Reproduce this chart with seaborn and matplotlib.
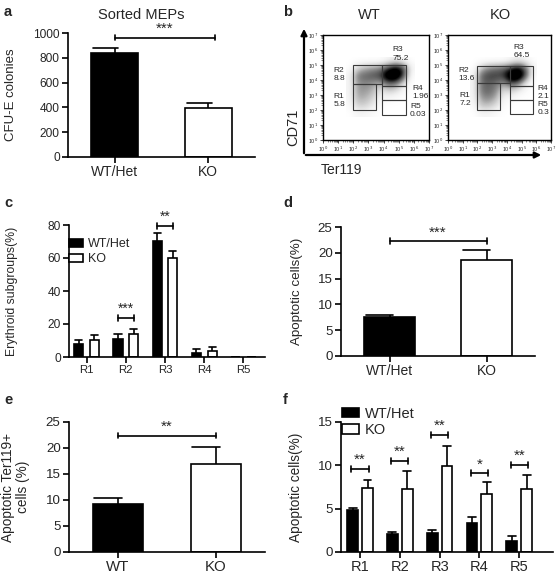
import numpy as np
import pandas as pd
import matplotlib
matplotlib.use("Agg")
import matplotlib.pyplot as plt
import seaborn as sns
from matplotlib.patches import Rectangle, Patch

# ---------------- data ----------------
a_groups = ["WT/Het", "KO"]
a_means = [838, 397]
a_sems = [40, 35]

regions = ["R1", "R2", "R3", "R4", "R5"]
c_wt = [7.7, 10.7, 70.4, 2.6, 0.15]
c_wt_err = [2.4, 3.1, 4.5, 2.1, 0.1]
c_ko = [10.5, 14.2, 59.7, 3.4, 0.1]
c_ko_err = [3.1, 3.0, 4.5, 2.7, 0.1]

d_groups = ["WT/Het", "KO"]
d_means = [7.6, 18.7]
d_sems = [0.35, 1.8]

e_groups = ["WT", "KO"]
e_means = [9.3, 16.9]
e_sems = [1.0, 3.3]

f_wt = [4.8, 2.05, 2.2, 3.35, 1.25]
f_wt_err = [0.3, 0.25, 0.3, 0.7, 0.6]
f_ko = [7.35, 7.25, 9.9, 6.7, 7.25]
f_ko_err = [0.95, 2.05, 2.3, 1.35, 1.65]

# flow gates (log10 decades): name -> (x0, x1, y0, y1)
wt_gates = {"R1": (2.0, 3.5, 2.0, 3.75), "R2": (2.0, 3.9, 3.75, 5.0),
            "R3": (3.9, 5.5, 3.6, 5.0), "R4": (3.9, 5.5, 2.7, 3.6),
            "R5": (3.9, 5.5, 1.65, 2.7)}
ko_gates = {"R1": (2.0, 3.55, 2.0, 3.78), "R2": (2.0, 4.2, 3.78, 4.95),
            "R3": (4.2, 5.8, 3.6, 4.95), "R4": (4.2, 5.8, 2.67, 3.6),
            "R5": (4.2, 5.8, 1.73, 2.67)}
wt_pct = {"R1": "5.8", "R2": "8.8", "R3": "75.2", "R4": "1.96", "R5": "0.03"}
ko_pct = {"R1": "7.2", "R2": "13.6", "R3": "64.5", "R4": "2.1", "R5": "0.3"}
wt_lab_pos = {"R1": (0.7, 3.15), "R2": (0.7, 4.9), "R3": (4.6, 6.25),
              "R4": (5.9, 3.7), "R5": (5.75, 2.45)}
ko_lab_pos = {"R1": (0.8, 3.2), "R2": (0.72, 4.9), "R3": (4.45, 6.4),
              "R4": (6.1, 3.65), "R5": (6.1, 2.6)}
# estimated event density (rows: CD71 5.25 -> 1.75, cols: Ter119 1.75 -> 5.75)
wt_density = np.array([
    [0.00, 0.00, 0.00, 0.00, 0.00, 0.05, 0.10, 0.05, 0.00],
    [0.00, 0.20, 0.30, 0.35, 0.40, 0.60, 0.80, 0.60, 0.05],
    [0.05, 0.45, 0.50, 0.55, 0.60, 0.95, 1.00, 0.60, 0.00],
    [0.05, 0.35, 0.40, 0.35, 0.30, 0.50, 0.45, 0.15, 0.00],
    [0.05, 0.35, 0.35, 0.30, 0.10, 0.20, 0.15, 0.05, 0.00],
    [0.05, 0.30, 0.30, 0.20, 0.05, 0.05, 0.02, 0.00, 0.00],
    [0.02, 0.20, 0.20, 0.10, 0.02, 0.00, 0.00, 0.00, 0.00],
    [0.00, 0.05, 0.05, 0.02, 0.00, 0.00, 0.00, 0.00, 0.00]])
ko_density = np.array([
    [0.00, 0.00, 0.00, 0.00, 0.00, 0.05, 0.10, 0.05, 0.00],
    [0.00, 0.25, 0.40, 0.45, 0.50, 0.60, 0.75, 0.50, 0.05],
    [0.05, 0.50, 0.60, 0.60, 0.60, 0.95, 1.00, 0.55, 0.00],
    [0.05, 0.45, 0.50, 0.45, 0.35, 0.55, 0.45, 0.10, 0.00],
    [0.05, 0.45, 0.50, 0.40, 0.15, 0.20, 0.10, 0.02, 0.00],
    [0.05, 0.35, 0.40, 0.30, 0.05, 0.05, 0.00, 0.00, 0.00],
    [0.02, 0.25, 0.25, 0.15, 0.02, 0.00, 0.00, 0.00, 0.00],
    [0.00, 0.05, 0.05, 0.02, 0.00, 0.00, 0.00, 0.00, 0.00]])
decades = list(range(8))

# ---------------- style ----------------
sns.set_style("ticks")
plt.rcParams["font.family"] = ["Liberation Sans", "DejaVu Sans"]
plt.rcParams["axes.linewidth"] = 1.2

W, H = 557, 577
fig = plt.figure(figsize=(W / 100, H / 100), dpi=100)


def px_axes(left, top, right, bottom):
    return fig.add_axes([left / W, 1 - bottom / H, (right - left) / W, (bottom - top) / H])


def style(ax, xfs, yfs):
    sns.despine(ax=ax)
    for s in ("left", "bottom"):
        ax.spines[s].set_linewidth(1.2)
        ax.spines[s].set_color("black")
    ax.tick_params(axis="both", direction="out", length=4, width=1.2, color="black", pad=2)
    ax.tick_params(axis="x", labelsize=xfs)
    ax.tick_params(axis="y", labelsize=yfs)
    ax.set_xlabel("")


def upper_err(ax, xs, tops, errs, cl, cr):
    for x, t, e in zip(xs, tops, errs):
        ax.plot([x, x], [t, t + e], color="black", lw=1.2, zorder=1, solid_capstyle="butt")
        ax.plot([x - cl, x + cr], [t + e, t + e], color="black", lw=1.2, zorder=1)


def bracket(ax, x0, x1, y, h, txt, fs):
    kw = dict(color="black", lw=1.2, clip_on=False)
    ax.plot([x0, x1], [y, y], **kw)
    ax.plot([x0, x0], [y - h, y + h], **kw)
    ax.plot([x1, x1], [y - h, y + h], **kw)
    ax.text((x0 + x1) / 2, y + h * 0.6, txt, ha="center", va="bottom", fontsize=fs)


def bar_centers(container):
    return [b.get_x() + b.get_width() / 2 for b in container]


# ---------------- panel a ----------------
ax = px_axes(68, 33, 255, 157)
sns.barplot(x=a_groups, y=a_means, hue=a_groups, palette=["black", "white"],
            edgecolor="black", linewidth=1.2, width=0.5, errorbar=None, legend=False, ax=ax)
ax.set_xlim(-0.5, 1.5)
ax.set_ylim(0, 1000)
ax.set_yticks([0, 200, 400, 600, 800, 1000])
upper_err(ax, [0, 1], a_means, a_sems, 0.23, 0.04)
bracket(ax, 0, 1.07, 962, 20, "***", 11)
style(ax, 10, 8.6)
ax.set_ylabel("CFU-E colonies", fontsize=9.5)
ax.yaxis.set_label_coords(-0.273, 0.5)

# ---------------- panel c ----------------
ax = px_axes(69, 225, 265, 357)
df_c = pd.DataFrame({"region": regions * 2,
                     "value": c_wt + c_ko,
                     "geno": ["WT/Het"] * 5 + ["KO"] * 5})
sns.barplot(data=df_c, x="region", y="value", hue="geno",
            palette={"WT/Het": "black", "KO": "white"}, edgecolor="black",
            linewidth=1.2, width=0.8, gap=0.42, errorbar=None, legend=False, ax=ax)
ax.set_xlim(-0.45, 4.55)
ax.set_ylim(0, 80)
ax.set_yticks([0, 20, 40, 60, 80])
cw = bar_centers(ax.containers[0])
ck = bar_centers(ax.containers[1])
upper_err(ax, cw, c_wt, c_wt_err, 0.09, 0.09)
upper_err(ax, ck, c_ko, c_ko_err, 0.09, 0.09)
bracket(ax, cw[1], ck[1], 23.8, 1.8, "***", 10)
bracket(ax, cw[2], ck[2], 79.4, 1.8, "**", 10)
style(ax, 8.2, 8.6)
ax.set_ylabel("Erythroid subgroups(%)", fontsize=8.8)
ax.yaxis.set_label_coords(-0.26, 0.5)
ax.legend(handles=[Patch(fc="black", ec="black", lw=1.2), Patch(fc="white", ec="black", lw=1.2)],
          labels=["WT/Het", "KO"], loc="upper left", bbox_to_anchor=(0.0, 0.90),
          frameon=False, fontsize=9, handlelength=1.1, handleheight=0.65,
          handletextpad=0.4, labelspacing=0.25, borderpad=0, borderaxespad=0)

# ---------------- panel d ----------------
ax = px_axes(341, 227, 535, 356)
sns.barplot(x=d_groups, y=d_means, hue=d_groups, palette=["black", "white"],
            edgecolor="black", linewidth=1.2, width=0.52, errorbar=None, legend=False, ax=ax)
ax.set_xlim(-0.5, 1.5)
ax.set_ylim(0, 25)
ax.set_yticks([0, 5, 10, 15, 20, 25])
upper_err(ax, [0, 1], d_means, d_sems, 0.24, 0.04)
bracket(ax, 0, 1, 22.3, 0.5, "***", 11)
style(ax, 10, 9.6)
ax.set_ylabel("Apoptotic cells(%)", fontsize=9.6)
ax.yaxis.set_label_coords(-0.196, 0.5)

# ---------------- panel e ----------------
ax = px_axes(69, 422, 265, 552)
sns.barplot(x=e_groups, y=e_means, hue=e_groups, palette=["black", "white"],
            edgecolor="black", linewidth=1.2, width=0.51, errorbar=None, legend=False, ax=ax)
ax.set_xlim(-0.5, 1.5)
ax.set_ylim(0, 25)
ax.set_yticks([0, 5, 10, 15, 20, 25])
upper_err(ax, [0, 1], e_means, e_sems, 0.25, 0.04)
bracket(ax, 0, 1, 22.4, 0.5, "**", 11)
style(ax, 10.8, 9.6)
ax.set_ylabel("Apoptotic Ter119+\ncells (%)", fontsize=9.8, linespacing=1.05)
ax.yaxis.set_label_coords(-0.199, 0.5)

# ---------------- panel f ----------------
ax = px_axes(341, 422, 553, 552)
df_f = pd.DataFrame({"region": regions * 2,
                     "value": f_wt + f_ko,
                     "geno": ["WT/Het"] * 5 + ["KO"] * 5})
sns.barplot(data=df_f, x="region", y="value", hue="geno",
            palette={"WT/Het": "black", "KO": "white"}, edgecolor="black",
            linewidth=1.2, width=0.745, gap=0.27, errorbar=None, legend=False, ax=ax)
ax.set_xlim(-0.48, 4.85)
ax.set_ylim(0, 15)
ax.set_yticks([0, 5, 10, 15])
fw = bar_centers(ax.containers[0])
fk = bar_centers(ax.containers[1])
upper_err(ax, fw, f_wt, f_wt_err, 0.1, 0.1)
upper_err(ax, fk, f_ko, f_ko_err, 0.1, 0.1)
f_sig = ["**", "**", "**", "*", "**"]
f_sig_y = [9.6, 10.5, 13.5, 9.1, 10.05]
for i in range(5):
    bracket(ax, fw[i] - 0.03, fk[i] + 0.03, f_sig_y[i], 0.35, f_sig[i], 11)
style(ax, 10.5, 9.6)
ax.set_ylabel("Apoptotic cells(%)", fontsize=9.8)
ax.yaxis.set_label_coords(-0.179, 0.5)
fig.legend(handles=[Patch(fc="black", ec="black", lw=1.2), Patch(fc="white", ec="black", lw=1.2)],
           labels=["WT/Het", "KO"], loc="upper left", bbox_to_anchor=(342 / W, 1 - 407 / H),
           frameon=False, fontsize=10.5, handlelength=1.15, handleheight=0.6,
           handletextpad=0.4, labelspacing=0.15, borderpad=0, borderaxespad=0)


# ---------------- panel b (flow plots) ----------------
def flow(ax, dens, gates, pct, lpos):
    ax.imshow(dens, extent=(1.5, 6.0, 1.5, 5.5), origin="upper", cmap="Greys",
              vmin=0, vmax=0.72, interpolation="bicubic", aspect="auto", zorder=0)
    for name, (x0, x1, y0, y1) in gates.items():
        ax.add_patch(Rectangle((x0, y0), x1 - x0, y1 - y0, fill=False,
                               ec="#3a3a3a", lw=0.8, zorder=2))
        lx, ly = lpos[name]
        ax.text(lx, ly, f"{name}\n{pct[name]}", ha="left", va="top",
                fontsize=6, linespacing=1.25, zorder=3)
    ax.set_xlim(0, 7)
    ax.set_ylim(0, 7)
    ax.set_xticks(decades)
    ax.set_yticks(decades)
    lbl = [f"10$^{{{d}}}$" for d in decades]
    ax.set_xticklabels(lbl)
    ax.set_yticklabels(lbl)
    minors = [d + np.log10(k) for d in decades[:-1] for k in range(2, 10)]
    ax.set_xticks(minors, minor=True)
    ax.set_yticks(minors, minor=True)
    ax.tick_params(which="major", length=2.2, width=0.6, labelsize=3.9, pad=1.2, direction="out")
    ax.tick_params(which="minor", length=1.2, width=0.4, direction="out")
    for s in ax.spines.values():
        s.set_linewidth(1.0)
        s.set_color("black")
        s.set_visible(True)


ax_wt = px_axes(323, 35, 429, 140)
flow(ax_wt, wt_density, wt_gates, wt_pct, wt_lab_pos)
ax_ko = px_axes(448, 35, 551, 140)
flow(ax_ko, ko_density, ko_gates, ko_pct, ko_lab_pos)

# ---------------- overlay: letters, arrows, titles ----------------
ov = fig.add_axes([0, 0, 1, 1], zorder=-5)
ov.set_xlim(0, W)
ov.set_ylim(H, 0)
ov.axis("off")
for letter, (x, y) in {"a": (4, 12), "b": (283, 12), "c": (4, 203),
                       "d": (283, 203), "e": (4, 400), "f": (283, 400)}.items():
    ov.text(x, y, letter, fontsize=10.5, fontweight="bold", ha="left", va="center")
ov.text(141, 15, "Sorted MEPs", fontsize=10.5, ha="center", va="center")
ov.text(369, 15, "WT", fontsize=10.5, ha="center", va="center")
ov.text(500, 15, "KO", fontsize=10.5, ha="center", va="center")
ov.annotate("", xy=(304, 26), xytext=(304, 156),
            arrowprops=dict(arrowstyle="-|>", lw=1.6, color="black", mutation_scale=9))
ov.annotate("", xy=(544, 155), xytext=(303, 155),
            arrowprops=dict(arrowstyle="-|>", lw=1.6, color="black", mutation_scale=9))
ov.text(293, 127, "CD71", rotation=90, fontsize=10.5, ha="center", va="center")
ov.text(321, 170, "Ter119", fontsize=10, ha="left", va="center")

fig.savefig("out.png", dpi=100)
